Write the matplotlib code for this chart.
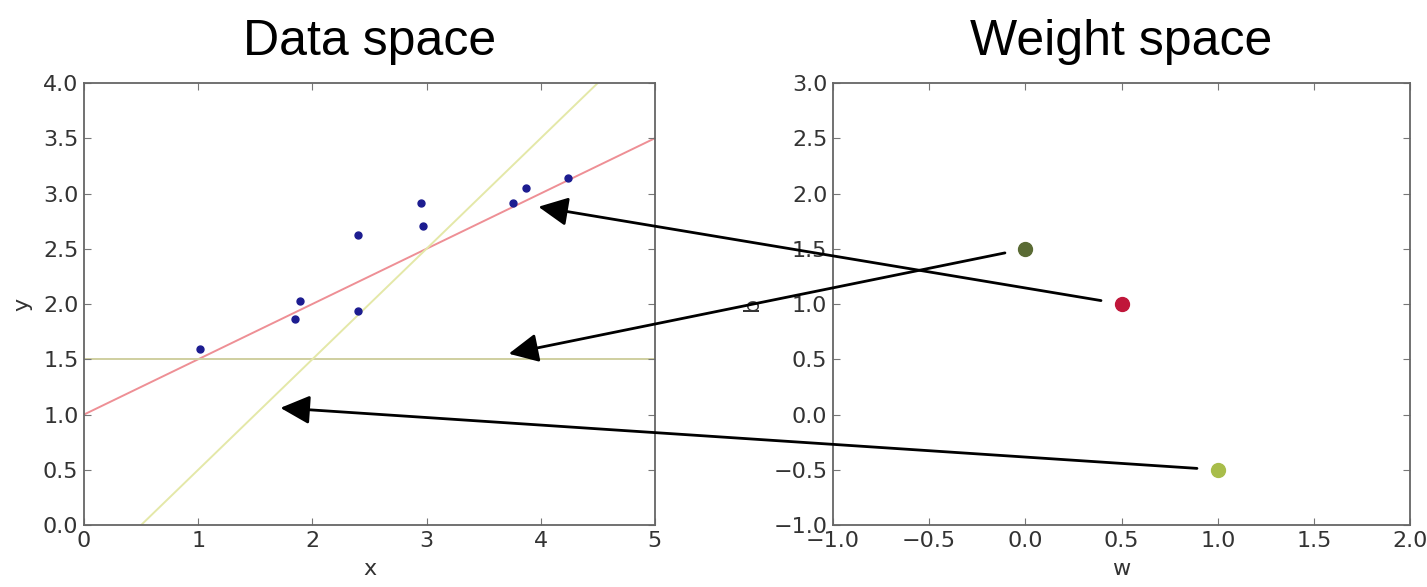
import numpy as np
from matplotlib import pyplot as plt
from matplotlib.patches import ConnectionPatch

# observed data points
x_data = [1.02, 1.85, 1.89, 2.40, 2.40, 2.95, 2.97, 3.76, 3.87, 4.24]
y_data = [1.59, 1.86, 2.03, 2.62, 1.94, 2.91, 2.71, 2.91, 3.05, 3.14]

# three candidate (w, b) pairs
w_vals = [0.5, 0.0, 1.0]
b_vals = [1.0, 1.5, -0.5]
point_colors = ['#c0163a', '#5a6b34', '#a8bd4a']
line_colors = ['#ee8f95', '#cfcfa0', '#e4e8a8']

# where each arrow lands in data space
arrow_tips = [(3.98, 2.88), (3.72, 1.55), (1.72, 1.06)]

if __name__ == "__main__":
    fig = plt.figure(figsize=(14.27, 5.87), dpi=100)
    ax1 = fig.add_axes([0.0589, 0.1056, 0.4, 0.753])
    ax2 = fig.add_axes([0.5837, 0.1056, 0.4045, 0.753])

    xs = np.array([0, 5])
    for w, b, c in zip(w_vals, b_vals, line_colors):
        ax1.plot(xs, w * xs + b, color=c, lw=1.4, zorder=1)
    ax1.plot(x_data, y_data, 'o', color='#1c1c90', ms=5, zorder=3)
    ax1.set_xlim(0, 5)
    ax1.set_ylim(0, 4)
    ax1.set_xticks(range(6))
    ax1.set_yticks(np.arange(0, 4.01, 0.5))

    for w, b, c in zip(w_vals, b_vals, point_colors):
        ax2.plot(w, b, 'o', color=c, ms=10, zorder=3)
    ax2.set_xlim(-1, 2)
    ax2.set_ylim(-1, 3)
    ax2.set_xticks(np.arange(-1, 2.01, 0.5))
    ax2.set_yticks(np.arange(-1, 3.01, 0.5))

    for ax, title, xl, yl in [(ax1, 'Data space', 'x', 'y'),
                              (ax2, 'Weight space', 'w', 'b')]:
        ax.set_title(title, fontsize=36, family='Liberation Sans', pad=20)
        ax.set_xlabel(xl, fontsize=16, color='#333333', labelpad=6)
        ax.set_ylabel(yl, fontsize=16, color='#333333', labelpad=8)
        ax.tick_params(direction='in', top=True, right=True, length=5,
                       labelsize=16, labelcolor='#333333', color='#777777', pad=4)
        for s in ax.spines.values():
            s.set_color('#666666')
            s.set_linewidth(1.3)

    # arrows from weight space points to the lines they give
    for w, b, tip in zip(w_vals, b_vals, arrow_tips):
        con = ConnectionPatch(xyA=(w, b), coordsA=ax2.transData,
                              xyB=tip, coordsB=ax1.transData,
                              arrowstyle='-|>,head_length=0.45,head_width=0.22',
                              mutation_scale=40, shrinkA=15, shrinkB=0,
                              color='black', lw=2, zorder=5)
        fig.add_artist(con)

    fig.savefig('out.png', dpi=100)
